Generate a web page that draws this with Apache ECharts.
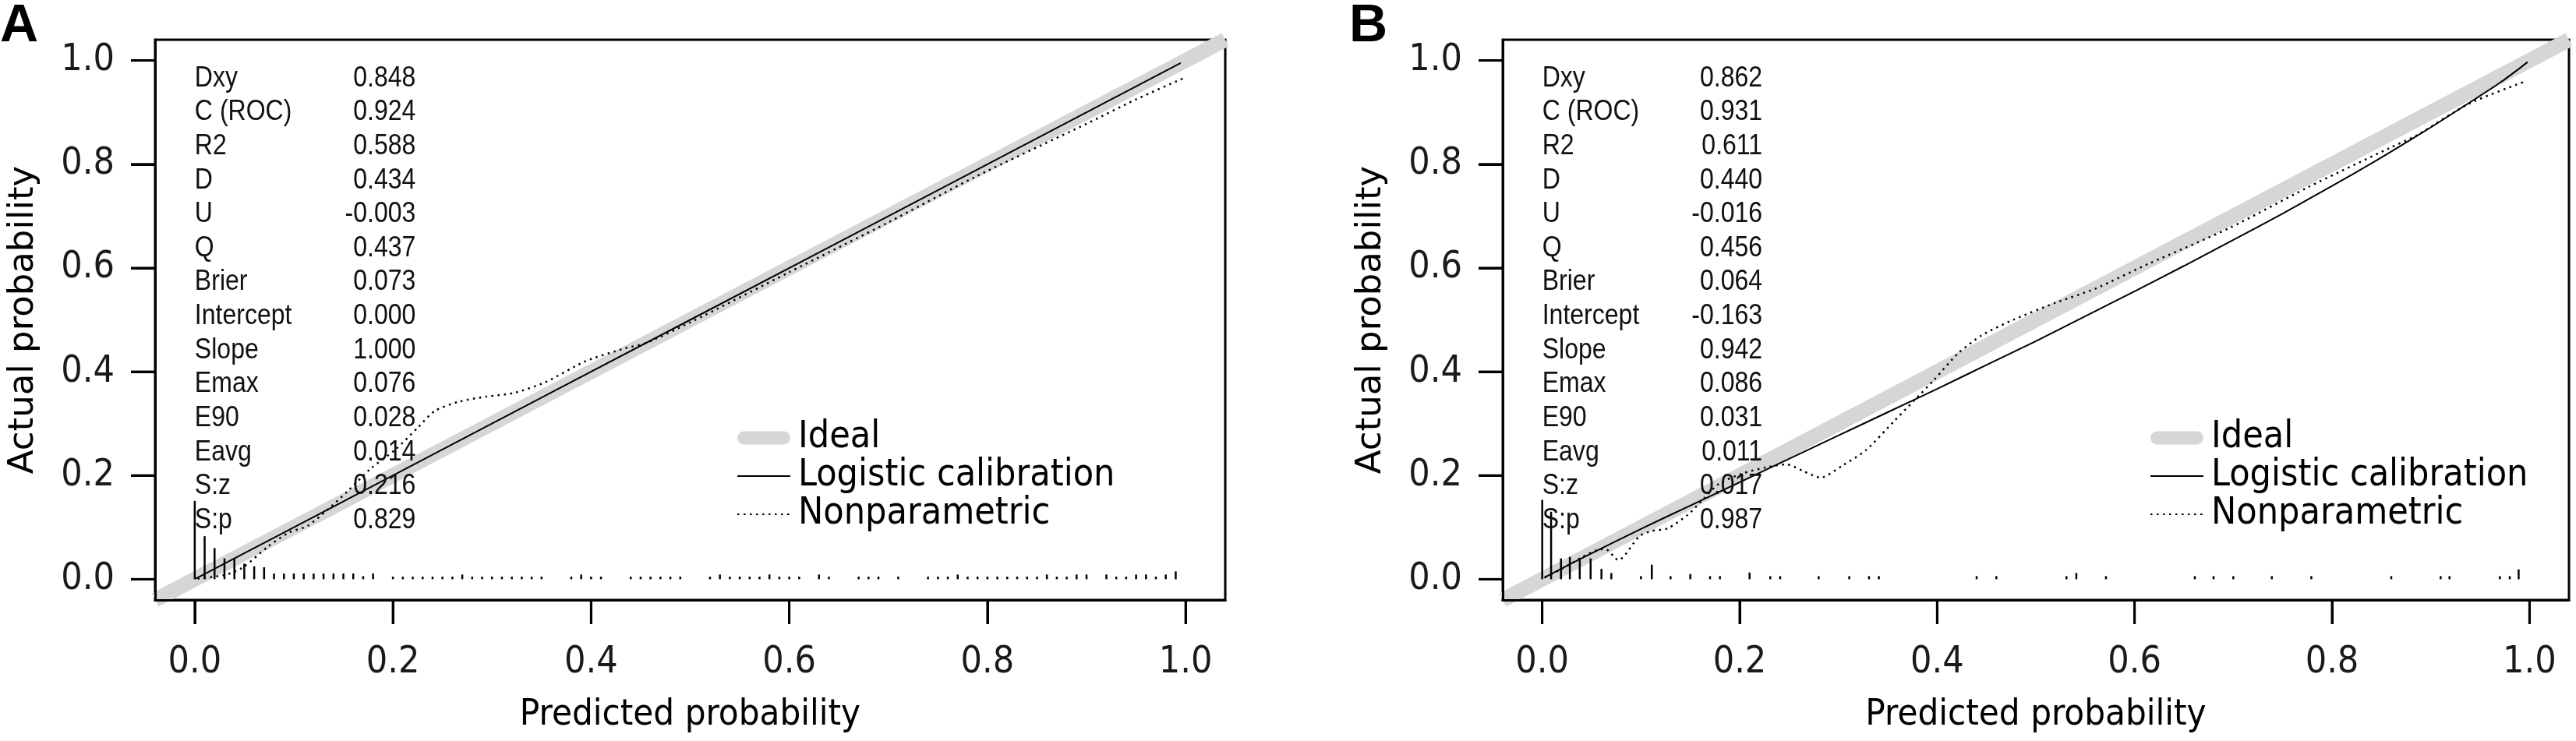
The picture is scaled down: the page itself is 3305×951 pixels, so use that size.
<!DOCTYPE html>
<html><head><meta charset="utf-8">
<script src="https://cdn.jsdelivr.net/npm/echarts@6/dist/echarts.min.js"></script>
<style>html,body{margin:0;padding:0;background:#fff}#c{width:3305px;height:951px;background:#fff}</style>
</head><body><div id="c"></div>
<script>
// ---------------- data ----------------
const panelLabels = ['A', 'B'];
const xTicks = [0, 0.2, 0.4, 0.6, 0.8, 1.0];
const yTicks = [0, 0.2, 0.4, 0.6, 0.8, 1.0];
const legendNames = ['Ideal', 'Logistic calibration', 'Nonparametric'];
const xTitle = 'Predicted probability';
const yTitle = 'Actual probability';

const statNames = ['Dxy', 'C (ROC)', 'R2', 'D', 'U', 'Q', 'Brier', 'Intercept', 'Slope', 'Emax', 'E90', 'Eavg', 'S:z', 'S:p'];
const statsA = ['0.848', '0.924', '0.588', '0.434', '-0.003', '0.437', '0.073', '0.000', '1.000', '0.076', '0.028', '0.014', '0.216', '0.829'];
const statsB = ['0.862', '0.931', '0.611', '0.440', '-0.016', '0.456', '0.064', '-0.163', '0.942', '0.086', '0.031', '0.011', '0.017', '0.987'];

const idealLine = [[-0.04, -0.04], [1.04, 1.04]];

const logisticA = [[0.001, 0.001], [0.25, 0.25], [0.5, 0.5], [0.75, 0.75], [0.995, 0.995]];
const nonparA = [[0.003, 0.001], [0.03, 0.008], [0.048, 0.022], [0.074, 0.063], [0.095, 0.090], [0.114, 0.103],
  [0.134, 0.134], [0.154, 0.169], [0.178, 0.214], [0.202, 0.249], [0.226, 0.294], [0.242, 0.324], [0.266, 0.342],
  [0.294, 0.352], [0.322, 0.359], [0.354, 0.380], [0.394, 0.420], [0.434, 0.445], [0.455, 0.455], [0.5, 0.495],
  [0.6, 0.592], [0.7, 0.688], [0.787, 0.775], [0.9, 0.878], [0.95, 0.925], [0.997, 0.965]];

const logisticB = [[0.002, 0.0025], [0.005, 0.006], [0.02, 0.021], [0.05, 0.050], [0.1, 0.097], [0.15, 0.142],
  [0.2, 0.187], [0.25, 0.232], [0.3, 0.277], [0.35, 0.322], [0.4, 0.367], [0.45, 0.413], [0.5, 0.459],
  [0.55, 0.507], [0.6, 0.555], [0.65, 0.604], [0.7, 0.654], [0.75, 0.705], [0.8, 0.758], [0.85, 0.813],
  [0.9, 0.871], [0.95, 0.932], [0.97, 0.957], [0.99, 0.985], [0.998, 0.997]];
const nonparB = [[0.003, 0.004], [0.02, 0.020], [0.04, 0.042], [0.055, 0.056], [0.064, 0.058], [0.077, 0.037],
  [0.0985, 0.083], [0.111, 0.093], [0.127, 0.098], [0.147, 0.1235], [0.163, 0.154], [0.179, 0.184],
  [0.203, 0.204], [0.2275, 0.216], [0.2476, 0.2214], [0.2637, 0.209], [0.282, 0.196], [0.304, 0.219],
  [0.328, 0.249], [0.356, 0.304], [0.3765, 0.344], [0.397, 0.3845], [0.421, 0.435], [0.445, 0.470],
  [0.477, 0.500], [0.52, 0.533], [0.56, 0.560], [0.614, 0.608], [0.695, 0.676], [0.776, 0.756],
  [0.858, 0.831], [0.886, 0.856], [0.939, 0.917], [0.9935, 0.958]];

// spike histogram of predicted probabilities: [x, height]
const spikesA = [[0.00, 0.151], [0.01, 0.083], [0.02, 0.060], [0.03, 0.040], [0.04, 0.040], [0.05, 0.030],
  [0.06, 0.025], [0.07, 0.023], [0.08, 0.011], [0.09, 0.011], [0.10, 0.011], [0.11, 0.011], [0.12, 0.011],
  [0.13, 0.011], [0.14, 0.011], [0.15, 0.011], [0.16, 0.011], [0.17, 0.006], [0.18, 0.011],
  [0.20, 0.005], [0.21, 0.005], [0.22, 0.005], [0.23, 0.005], [0.24, 0.005], [0.25, 0.005], [0.26, 0.005],
  [0.27, 0.009], [0.28, 0.005], [0.29, 0.005], [0.30, 0.005], [0.31, 0.005], [0.32, 0.005], [0.33, 0.005],
  [0.34, 0.005], [0.35, 0.005], [0.38, 0.005], [0.39, 0.009], [0.40, 0.005], [0.41, 0.005],
  [0.44, 0.005], [0.45, 0.005], [0.46, 0.005], [0.47, 0.005], [0.48, 0.005], [0.49, 0.005],
  [0.52, 0.005], [0.53, 0.009], [0.54, 0.005], [0.55, 0.005], [0.56, 0.005], [0.57, 0.005], [0.58, 0.009],
  [0.59, 0.005], [0.60, 0.005], [0.61, 0.005], [0.63, 0.009], [0.64, 0.005], [0.67, 0.005], [0.68, 0.005],
  [0.69, 0.005], [0.71, 0.005], [0.74, 0.005], [0.75, 0.005], [0.76, 0.005], [0.77, 0.009], [0.78, 0.005],
  [0.79, 0.005], [0.80, 0.005], [0.81, 0.005], [0.82, 0.005], [0.83, 0.005], [0.84, 0.005], [0.85, 0.005],
  [0.86, 0.009], [0.87, 0.005], [0.88, 0.005], [0.89, 0.009], [0.90, 0.009], [0.92, 0.009], [0.93, 0.005],
  [0.94, 0.005], [0.95, 0.009], [0.96, 0.009], [0.97, 0.005], [0.98, 0.009], [0.99, 0.015]];
const spikesB = [[0.000, 0.153], [0.009, 0.130], [0.019, 0.040], [0.028, 0.043], [0.038, 0.038], [0.049, 0.040],
  [0.060, 0.020], [0.070, 0.012], [0.100, 0.006], [0.111, 0.028], [0.130, 0.006], [0.150, 0.010],
  [0.170, 0.006], [0.180, 0.006], [0.210, 0.013], [0.231, 0.006], [0.241, 0.006], [0.280, 0.006],
  [0.311, 0.006], [0.331, 0.006], [0.341, 0.006], [0.440, 0.006], [0.460, 0.006], [0.531, 0.006],
  [0.541, 0.012], [0.571, 0.006], [0.661, 0.006], [0.680, 0.006], [0.700, 0.006], [0.739, 0.006],
  [0.779, 0.006], [0.860, 0.006], [0.910, 0.006], [0.919, 0.006], [0.970, 0.006], [0.980, 0.006],
  [0.989, 0.019]];

// ---------------- layout / style ----------------
const FONT_COND = "'DejaVu Sans Condensed', 'DejaVu Sans', sans-serif";
const FONT_REG = "'DejaVu Sans', sans-serif";
const FONT_STAT = "'Liberation Sans', Arial, sans-serif";
const GRAY = '#d6d6d6';
const AX_MIN = -0.04, AX_MAX = 1.04, TICK_LEN = 31;
const STAT_TOP = 0.965, STAT_STEP = 0.0655, STAT_VAL_X = 0.223, STAT_SCALE_X = 0.89;

const panels = [
  {grid: {left: 199, top: 51, width: 1373, height: 719}, legendLeft: 945, titleLeft: 0,
   logistic: logisticA, nonpar: nonparA, spikes: spikesA, stats: statsA},
  {grid: {left: 1928, top: 51, width: 1368, height: 719}, legendLeft: 2758, titleLeft: 1731,
   logistic: logisticB, nonpar: nonparB, spikes: spikesB, stats: statsB}
];

const chart = echarts.init(document.getElementById('c'), null, {renderer: 'canvas'});
const grids = [], xAxes = [], yAxes = [], series = [], legends = [], titles = [];
const pill = 'path://M10,0 L70,0 A10,10 0 0 1 70,20 L10,20 A10,10 0 0 1 10,0 Z';

function textSeries(name, i, xPos, texts, align) {
  return {
    name: name, type: 'custom', xAxisIndex: i, yAxisIndex: i, z: 6, silent: true,
    data: texts.map((t, k) => [xPos, STAT_TOP - k * STAT_STEP]),
    encode: {x: 0, y: 1},
    renderItem: (params, api) => {
      const c = api.coord([api.value(0), api.value(1)]);
      return {
        type: 'text', x: c[0], y: c[1], scaleX: STAT_SCALE_X,
        style: {text: texts[params.dataIndex], x: 0, y: 0, fill: '#111',
          fontFamily: FONT_STAT, fontSize: 36, align: align, verticalAlign: 'middle'}
      };
    }
  };
}

const fmt = v => Number(v).toFixed(1);

panels.forEach((p, i) => {
  grids.push(Object.assign({show: true, borderColor: '#000', borderWidth: 3}, p.grid));
  xAxes.push({
    gridIndex: i, type: 'value', min: AX_MIN, max: AX_MAX, zlevel: 1,
    axisLine: {show: true, onZero: false, lineStyle: {color: '#000', width: 3}},
    splitLine: {show: false},
    axisTick: {show: true, customValues: xTicks, length: TICK_LEN, lineStyle: {color: '#000', width: 3}},
    axisLabel: {customValues: xTicks, formatter: fmt, margin: 81, verticalAlign: 'middle',
      fontFamily: FONT_COND, fontSize: 48, color: '#1a1a1a'},
    name: xTitle, nameLocation: 'middle', nameGap: 148,
    nameTextStyle: {fontFamily: FONT_COND, fontSize: 47, color: '#000', verticalAlign: 'middle'}
  });
  yAxes.push({
    gridIndex: i, type: 'value', min: AX_MIN, max: AX_MAX, zlevel: 1,
    axisLine: {show: true, onZero: false, lineStyle: {color: '#000', width: 3}},
    splitLine: {show: false},
    axisTick: {show: true, customValues: yTicks, length: TICK_LEN, lineStyle: {color: '#000', width: 3}},
    axisLabel: {customValues: yTicks, formatter: fmt, margin: 52,
      fontFamily: FONT_COND, fontSize: 48, color: '#1a1a1a'},
    name: yTitle, nameLocation: 'middle', nameGap: 169,
    nameTextStyle: {fontFamily: FONT_REG, fontSize: 45, color: '#000', verticalAlign: 'middle'}
  });
  const ax = {xAxisIndex: i, yAxisIndex: i};
  series.push(Object.assign({
    name: legendNames[0], type: 'line', data: idealLine, symbol: 'none', silent: true, z: 3,
    lineStyle: {color: GRAY, width: 19}, itemStyle: {color: GRAY}
  }, ax));
  series.push(Object.assign({
    name: 'spikes' + i, type: 'custom', data: p.spikes, z: 4, silent: true,
    encode: {x: 0, y: 1},
    renderItem: (params, api) => {
      const a = api.coord([api.value(0), 0]);
      const b = api.coord([api.value(0), api.value(1)]);
      return {type: 'line', shape: {x1: a[0], y1: a[1], x2: b[0], y2: b[1]}, style: {stroke: '#000', lineWidth: 2.5}};
    }
  }, ax));
  series.push(Object.assign({
    name: legendNames[1], type: 'line', data: p.logistic, symbol: 'none', smooth: 0.2, silent: true, z: 5,
    lineStyle: {color: '#000', width: 2}, itemStyle: {color: '#000'}
  }, ax));
  series.push(Object.assign({
    name: legendNames[2], type: 'line', data: p.nonpar, symbol: 'none', smooth: 0.25, silent: true, z: 5,
    lineStyle: {color: '#000', width: 2.5, type: [2.5, 5.5]}, itemStyle: {color: '#000'}
  }, ax));
  series.push(textSeries('statnames' + i, i, 0, statNames, 'left'));
  series.push(textSeries('statvals' + i, i, STAT_VAL_X, p.stats, 'right'));
  legends.push({
    orient: 'vertical', left: p.legendLeft, top: 538, itemWidth: 68, itemHeight: 20, itemGap: 1,
    selectedMode: false, padding: 0,
    itemStyle: {opacity: 0},
    data: [
      {name: legendNames[0], icon: pill, itemStyle: {color: GRAY, opacity: 1}},
      {name: legendNames[1]},
      {name: legendNames[2]}
    ],
    textStyle: {fontFamily: FONT_COND, fontSize: 48, color: '#000', padding: [0, 0, 0, 5]}
  });
  titles.push({text: panelLabels[i], left: p.titleLeft, top: 0, padding: 0,
    textStyle: {fontFamily: "'Liberation Sans', Arial, sans-serif", fontWeight: 'bold', fontSize: 68, color: '#000'}});
});

try {
  chart.setOption({
    animation: false,
    title: titles,
    grid: grids, xAxis: xAxes, yAxis: yAxes, legend: legends, series: series
  });
} catch (e) { console.error(e); }

// outward tick marks, drawn on a top layer through each panel's own axis scales
try {
  const tickEls = [];
  panels.forEach((p, i) => {
    const finder = {xAxisIndex: i, yAxisIndex: i};
    xTicks.forEach(v => {
      const c = chart.convertToPixel(finder, [v, AX_MIN]);
      if (c && isFinite(c[0]) && isFinite(c[1])) {
        tickEls.push({type: 'line', zlevel: 2, z: 100, shape: {x1: c[0], y1: c[1], x2: c[0], y2: c[1] + TICK_LEN},
          style: {stroke: '#000', lineWidth: 3}});
      }
    });
    yTicks.forEach(v => {
      const c = chart.convertToPixel(finder, [AX_MIN, v]);
      if (c && isFinite(c[0]) && isFinite(c[1])) {
        tickEls.push({type: 'line', zlevel: 2, z: 100, shape: {x1: c[0], y1: c[1], x2: c[0] - TICK_LEN, y2: c[1]},
          style: {stroke: '#000', lineWidth: 3}});
      }
    });
  });
  chart.setOption({graphic: {elements: tickEls}});
} catch (e) { console.error(e); }
</script></body></html>
